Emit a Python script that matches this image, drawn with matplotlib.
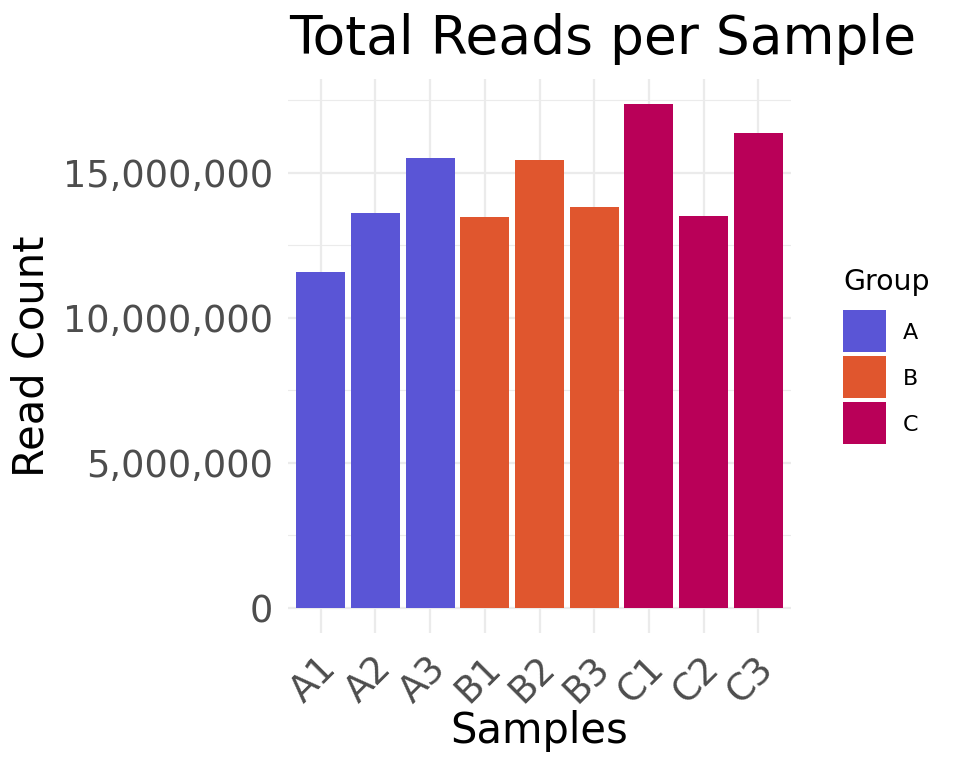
import matplotlib
matplotlib.use("Agg")
import matplotlib.pyplot as plt
from matplotlib.patches import Rectangle
from matplotlib.ticker import FuncFormatter, MultipleLocator
from matplotlib.transforms import ScaledTranslation
import numpy as np

# data
samples = ["A1", "A2", "A3", "B1", "B2", "B3", "C1", "C2", "C3"]
groups = ["A", "A", "A", "B", "B", "B", "C", "C", "C"]
reads = [11570000, 13600000, 15510000, 13470000, 15440000,
         13820000, 17370000, 13500000, 16370000]
group_names = ["A", "B", "C"]
group_colors = {"A": "#5A55D6", "B": "#E0562E", "C": "#B90058"}

W, H, DPI = 960, 768, 100
fig = plt.figure(figsize=(W / DPI, H / DPI), dpi=DPI)


def fx(px):
    return px / W


def fy(py):
    # pixel rows are counted from the top
    return 1 - py / H


# panel placement in pixels
left, right, top, bottom = 288, 791, 79, 632.7
ax = fig.add_axes([fx(left), fy(bottom), fx(right - left), (bottom - top) / H])

x = np.arange(len(samples))
ax.bar(x, reads, width=0.9, color=[group_colors[g] for g in groups],
       linewidth=0, zorder=2)

ymax = max(reads)
ax.set_ylim(-0.05 * ymax, 1.05 * ymax)
ax.set_xlim(-0.6, len(samples) - 0.4)

ax.yaxis.set_major_locator(MultipleLocator(5000000))
ax.yaxis.set_minor_locator(MultipleLocator(2500000))
ax.yaxis.set_major_formatter(FuncFormatter(lambda v, p: f"{int(v):,}"))
ax.set_xticks(x)
ax.set_xticklabels(samples)

grid_col = "#EBEBEB"
ax.grid(True, which="major", color=grid_col, linewidth=1.6, zorder=0)
ax.grid(True, which="minor", axis="y", color=grid_col, linewidth=0.8, zorder=0)
ax.set_axisbelow(True)
for s in ax.spines.values():
    s.set_visible(False)

ax.tick_params(axis="both", which="both", length=0, labelcolor="#4D4D4D",
               labelsize=26.5)
ax.tick_params(axis="y", pad=10.8)
ax.tick_params(axis="x", pad=12)
shift = ScaledTranslation(-3 / DPI, 0, fig.dpi_scale_trans)
for lab in ax.get_xticklabels():
    lab.set_rotation(45)
    lab.set_ha("right")
    lab.set_va("top")
    lab.set_rotation_mode("anchor")
    lab.set_transform(lab.get_transform() + shift)

# titles placed in pixel coordinates
fig.text(fx(289), fy(54), "Total Reads per Sample", fontsize=38.4,
         ha="left", va="baseline")
fig.text(fx((left + right) / 2), fy(743), "Samples", fontsize=30,
         ha="center", va="baseline")
fig.text(fx(53), fy((top + bottom) / 2), "Read Count", fontsize=30,
         rotation=90, ha="right", va="center")

# legend drawn by hand so the keys match the reference
fig.text(fx(843), fy(290), "Group", fontsize=20.4, ha="left", va="baseline")
key_x, key_w, key_h, key_top, key_step = 843, 43, 42, 310, 46
for i, g in enumerate(group_names):
    y0 = key_top + i * key_step
    fig.patches.append(Rectangle((fx(key_x), fy(y0 + key_h)), fx(key_w), key_h / H,
                                 transform=fig.transFigure,
                                 facecolor=group_colors[g], edgecolor="none"))
    fig.text(fx(903), fy(y0 + key_h / 2), g, fontsize=16, ha="left",
             va="center_baseline")

fig.savefig("out.png", dpi=DPI)
